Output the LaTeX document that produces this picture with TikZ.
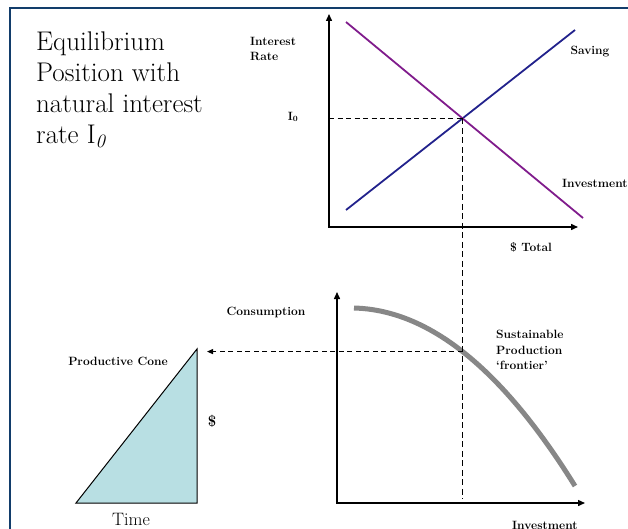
\documentclass[tikz,border=0pt]{standalone}
\usetikzlibrary{arrows.meta,intersections}
\definecolor{framecol}{HTML}{123D6B}
\definecolor{savecol}{HTML}{22228C}
\definecolor{invcol}{HTML}{801C8C}
\definecolor{conecol}{HTML}{B8DFE3}
\definecolor{ppfcol}{HTML}{878787}
\begin{document}
\begin{tikzpicture}[x=1pt,y=-1pt,
  axis/.style={line width=1.4pt,{Triangle[length=7pt,width=6pt]}-{Triangle[length=7pt,width=6pt]}},
  guide/.style={line width=1.1pt,dash pattern=on 5pt off 3.5pt},
  vguide/.style={line width=1.6pt,dash pattern=on 6pt off 3.5pt},
  lbl/.style={font=\fontsize{12}{15.5}\selectfont\bfseries,inner sep=0pt,align=left},
  title/.style={font=\fontsize{27}{31}\selectfont,inner sep=0pt,align=left},
  curve/.style={line width=1.8pt}
]
\useasboundingbox (0,0) rectangle (628,529);
% frame
\draw[framecol,line width=2.2pt] (10,535) -- (10,8) -- (635,8);

% title
\node[title,anchor=north west] (ttl) at (36,32) {Equilibrium\\Position with\\natural interest\\rate I\textsubscript{\textit{0}}};

% ---- top chart ----
\coordinate (Y1) at (329,14);
\coordinate (O1) at (329,227);
\coordinate (X1) at (578,227);
\draw[axis] (Y1) -- (O1) -- (X1);
\coordinate (S1) at (346,210);
\coordinate (S2) at (575,30);
\coordinate (V1) at (346,22);
\coordinate (V2) at (583,218);
\draw[curve,savecol] (S1) -- (S2);
\draw[curve,invcol] (V1) -- (V2);
\coordinate (E) at (intersection of S1--S2 and V1--V2);
\draw[guide] (O1 |- E) -- (E);

\node[lbl,anchor=north west] (ir) at (250,37) {Interest\\Rate};
\node[lbl] (i0) at (293,117) {I\textsubscript{0}};
\node[lbl] (sav) at (590,52) {Saving};
\node[lbl,anchor=west] (inv) at (562,183) {Investment};
\node[lbl] (tot) at (531,247) {\$ Total};

% ---- lower chart ----
\coordinate (Y2) at (337,292);
\coordinate (O2) at (337,503);
\coordinate (X2) at (585,503);
\draw[axis] (Y2) -- (O2) -- (X2);
\draw[ppfcol,line width=5pt,name path=ppf] (354,308) .. controls (428,310) and (501,367) .. (575,486);
\path[name path=vline] (E) -- (E |- O2);
\path[name intersections={of=ppf and vline,by=F}];
\draw[vguide] (E) -- (E |- 0,499);
\coordinate (A) at (207,0 |- F);
\draw[guide,-{Triangle[length=6pt,width=5pt]}] (F) -- (A);

\node[lbl] (cons) at (266,312) {Consumption};
\node[lbl,anchor=north west] (spf) at (496,330) {Sustainable\\Production\\`frontier'};
\node[lbl,anchor=west] (invb) at (512,525) {Investment};

% ---- productive cone ----
\coordinate (T1) at (76,503);
\coordinate (T2) at (197,503);
\coordinate (T3) at (197,349);
\draw[fill=conecol,line width=1pt] (T1) -- (T2) -- (T3) -- cycle;
\node[lbl] (pc) at (118,361) {Productive Cone};
\node[font=\fontsize{15}{16}\selectfont\bfseries,inner sep=0pt] (dol) at (212,421) {\$};
\node[font=\fontsize{18}{19}\selectfont,inner sep=0pt] (time) at (131,519) {Time};
\end{tikzpicture}
\end{document}
